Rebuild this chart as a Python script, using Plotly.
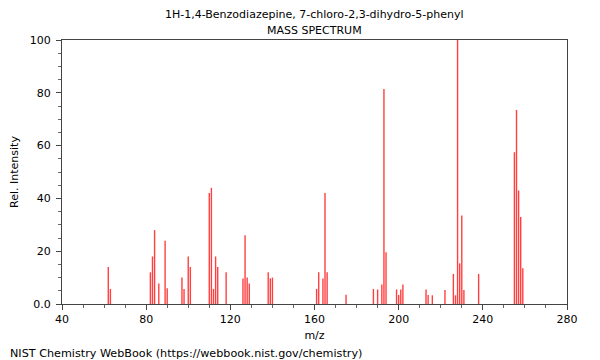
import plotly.graph_objects as go

mz = [62, 63, 82, 83, 84, 86, 89, 90, 97, 98, 100, 101, 110, 111, 112, 113, 114, 118,
      126, 127, 128, 129, 138, 139, 140, 161, 162, 164, 165, 166, 175,
      188, 190, 192, 193, 194, 199, 200, 201, 202, 213, 214, 216, 222,
      226, 227, 228, 229, 230, 231, 238, 255, 256, 257, 258, 259]
intensity = [14, 5.7, 12, 18, 28, 7.8, 24, 6, 10, 5.7, 18, 14, 42, 44, 5.7, 18, 14, 12,
             9.7, 26, 10, 7.8, 12, 9.7, 10, 5.7, 12, 9.7, 42, 12, 3.5,
             5.7, 5.5, 7.4, 81.4, 19.6, 5.5, 3.4, 5.5, 7.4, 5.5, 3.4, 3.3, 5.3,
             11.4, 3.3, 100, 15.4, 33.5, 5.3, 11.4, 57.5, 73.5, 43, 33, 13.5]
y_tickvals = [0, 20, 40, 60, 80, 100]
y_ticktext = ["0.0", "20", "40", "60", "80", "100"]
x_tickvals = [40, 80, 120, 160, 200, 240, 280]

xs, ys = [], []
for m, v in zip(mz, intensity):
    xs += [m, m, None]
    ys += [0, v, None]

fig = go.Figure()
fig.add_trace(go.Scatter(x=xs, y=ys, mode="lines",
                         line=dict(color="rgba(255,30,30,0.85)", width=1.4),
                         hoverinfo="skip", showlegend=False))

font = dict(family="DejaVu Sans", size=11, color="black")
tfont = dict(family="DejaVu Sans", size=11, color="black")
fig.update_layout(
    width=600, height=360,
    margin=dict(l=54, r=41, t=32, b=64),
    paper_bgcolor="white", plot_bgcolor="white",
    font=font,
    showlegend=False,
)
fig.update_xaxes(range=[40, 280], tickvals=x_tickvals, ticks="outside", ticklen=5,
                 tickcolor="#444", showline=True, linecolor="#444", linewidth=1,
                 mirror=True, showgrid=False, zeroline=False, automargin=False,
                 minor=dict(ticks="outside", dtick=10, ticklen=3, tickcolor="#666"),
                 title=dict(text="m/z", standoff=6, font=font),
                 tickfont=tfont)
fig.update_yaxes(range=[0, 100], tickvals=y_tickvals, ticktext=y_ticktext,
                 ticks="outside", ticklen=5, tickcolor="#444", ticklabelstandoff=3,
                 showline=True, linecolor="#444", linewidth=1, mirror=True,
                 showgrid=False, zeroline=False, automargin=False,
                 minor=dict(ticks="outside", dtick=5, ticklen=3, tickcolor="#666"),
                 title=dict(text="Rel. Intensity", standoff=8, font=font),
                 tickfont=tfont)

fig.add_annotation(text="1H-1,4-Benzodiazepine, 7-chloro-2,3-dihydro-5-phenyl",
                   x=0.5, y=1 + (40 - 14) / 264, xref="paper", yref="paper",
                   showarrow=False, font=font, yanchor="middle")
fig.add_annotation(text="MASS SPECTRUM",
                   x=0.5, y=1 + (40 - 30) / 264, xref="paper", yref="paper",
                   showarrow=False, font=font, yanchor="middle")
fig.add_annotation(text="NIST Chemistry WebBook (https://webbook.nist.gov/chemistry)",
                   x=-54 / 505, y=-(353 - 304) / 264, xref="paper", yref="paper",
                   showarrow=False, font=dict(family="DejaVu Sans", size=11.2, color="black"),
                   xanchor="left", yanchor="middle")

fig.write_html("out.html")
